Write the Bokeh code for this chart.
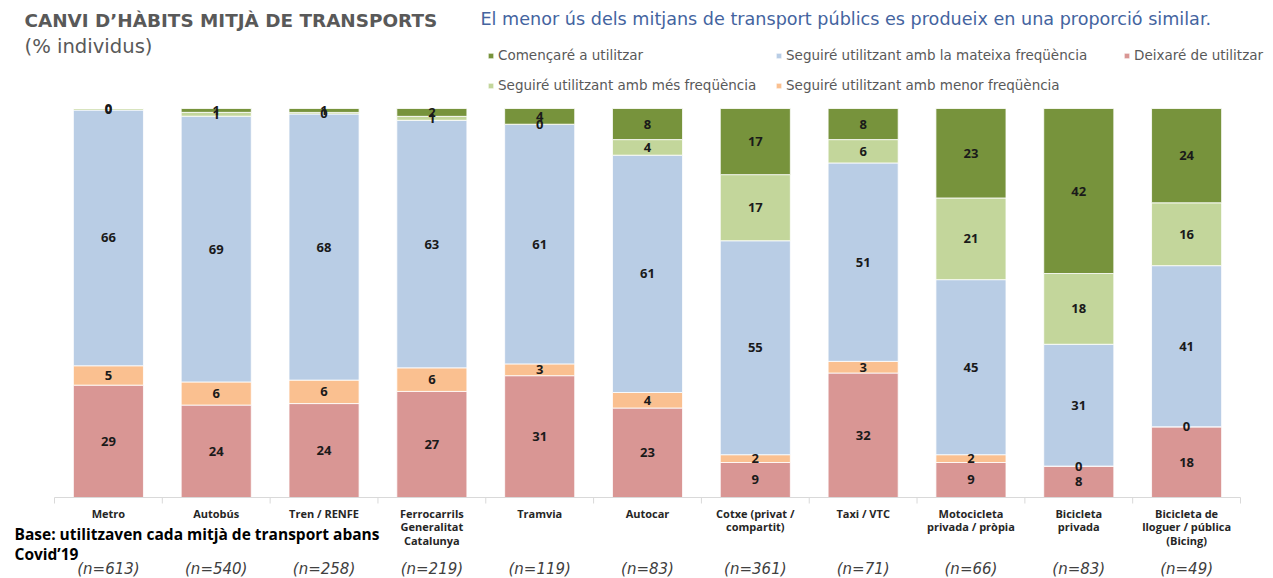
from bokeh.plotting import figure
from bokeh.models import ColumnDataSource, Range1d, Label, Legend, LegendItem
from bokeh.core.properties import value
from bokeh.embed import file_html
from bokeh.resources import INLINE

categories = ["Metro", "Autobús", "Tren / RENFE", "Ferrocarrils\nGeneralitat\nCatalunya",
              "Tramvia", "Autocar", "Cotxe (privat /\ncompartit)", "Taxi / VTC",
              "Motocicleta\nprivada / pròpia", "Bicicleta\nprivada",
              "Bicicleta de\nlloguer / pública\n(Bicing)"]
n_labels = ["(n=613)", "(n=540)", "(n=258)", "(n=219)", "(n=119)", "(n=83)",
            "(n=361)", "(n=71)", "(n=66)", "(n=83)", "(n=49)"]

deixare = [29, 24, 24, 27, 31, 23, 9, 32, 9, 8, 18]
menor = [5, 6, 6, 6, 3, 4, 2, 3, 2, 0, 0]
mateixa = [66, 69, 68, 63, 61, 61, 55, 51, 45, 31, 41]
mes = [0.4, 1, 0.4, 1, 0, 4, 17, 6, 21, 18, 16]
comencare = [0, 1, 1, 2, 4, 8, 17, 8, 23, 42, 24]

series_names = ["Deixaré de utilitzar", "Seguiré utilitzant amb menor freqüència",
                "Seguiré utilitzant amb la mateixa freqüència",
                "Seguiré utilitzant amb més freqüència", "Començaré a utilitzar"]
keys = ["deixare", "menor", "mateixa", "mes", "comencare"]
series_values = [deixare, menor, mateixa, mes, comencare]
colors = ["#D99694", "#FAC090", "#B9CDE5", "#C3D69B", "#77933C"]

# ---- layout (pixels on the 1273x578 canvas) ----
W, H = 1273, 578
PL, PR, PT, PB = 54, 1240, 108, 497

ncat = len(categories)
xunit = (PR - PL) / ncat
yunit = (PB - PT) / 100.0

xpos = [i + 0.5 for i in range(ncat)]
totals = [sum(v) for v in zip(*series_values)]
data = {"x": xpos, "n": n_labels, "cat": categories}
for k, vals in zip(keys, series_values):
    data[k] = [v / t * 100 for v, t in zip(vals, totals)]
src = ColumnDataSource(data)

p = figure(x_range=Range1d(-PL / xunit, (W - PL) / xunit),
           y_range=Range1d(-(H - PB) / yunit, 100 + PT / yunit),
           width=W, height=H, output_backend="svg", toolbar_location=None,
           x_axis_location=None, y_axis_location=None,
           min_border_left=0, min_border_right=0, min_border_top=0, min_border_bottom=0)
p.outline_line_color = None
p.xgrid.grid_line_color = None
p.ygrid.grid_line_color = None
p.background_fill_color = "white"
p.border_fill_color = "white"

rs = p.vbar_stack(keys, x="x", width=0.65, color=colors, source=src,
                  line_color="white", line_width=0.8)

# value labels in the middle of each segment
lab_x, lab_y, lab_t = [], [], []
for i in range(ncat):
    base = 0
    for k, vals in zip(keys, series_values):
        h = data[k][i]
        lab_x.append(xpos[i])
        lab_y.append(base + h / 2)
        lab_t.append(str(round(vals[i])))
        base += h
p.text(x=lab_x, y=lab_y, text=lab_t, text_align="center", text_baseline="middle",
       text_font=value("Open Sans"), text_font_style="bold", text_font_size="13px",
       text_color="#1a1a1a")

# category axis: baseline, separator ticks, labels
bounds = list(range(ncat + 1))
p.segment(x0=[bounds[0]], x1=[bounds[-1]], y0=[0], y1=[0], line_color="#D9D9D9", line_width=1)
p.segment(x0=bounds, x1=bounds, y0=[0] * len(bounds), y1=[-6 / yunit] * len(bounds),
          line_color="#D9D9D9", line_width=1)
p.text(x="x", y=-(505 - PB) / yunit, text="cat", source=src, text_align="center",
       text_baseline="top", text_font=value("Open Sans"), text_font_style="bold",
       text_font_size="11px", text_color="#262626", text_line_height=0.9)
p.text(x="x", y=-(568 - PB) / yunit, text="n", source=src, text_align="center",
       text_baseline="middle", text_font=value("DejaVu Sans"), text_font_style="italic",
       text_font_size="15px", text_color="#404040")


def lab(cx, cy, text, size, color, style="normal", font="DejaVu Sans"):
    p.add_layout(Label(x=cx, y=H - cy, x_units="screen", y_units="screen",
                       text=text, text_font=font, text_font_size=size,
                       text_color=color, text_font_style=style,
                       text_baseline="middle", text_align="left"))


lab(24, 20, "CANVI D’HÀBITS MITJÀ DE TRANSPORTS", "18.4px", "#595959", "bold")
lab(24, 46, "(% individus)", "19.6px", "#595959")
lab(480, 18, "El menor ús dels mitjans de transport públics es produeix en una proporció similar.",
    "17.6px", "#44649F")
lab(14, 533, "Base: utilitzaven cada mitjà de transport abans", "15.5px", "#000000", "bold",
    "Open Sans")
lab(14, 553, "Covid’19", "15.5px", "#000000", "bold", "Open Sans")

legend_pos = {4: (487, 55), 2: (775, 55), 0: (1123, 55), 3: (487, 85), 1: (775, 85)}
for idx, (cx, cy) in legend_pos.items():
    lg = Legend(items=[LegendItem(label=series_names[idx], renderers=[rs[idx]])],
                location=(cx, H - (cy + 9)), orientation="horizontal",
                background_fill_alpha=0, border_line_color=None, padding=0, margin=0,
                glyph_width=7, glyph_height=7, label_height=18, label_standoff=4,
                label_text_font="DejaVu Sans", label_text_font_size="13.5px",
                label_text_color="#595959", spacing=0)
    p.add_layout(lg)

open("out.html", "w").write(file_html(p, INLINE))
